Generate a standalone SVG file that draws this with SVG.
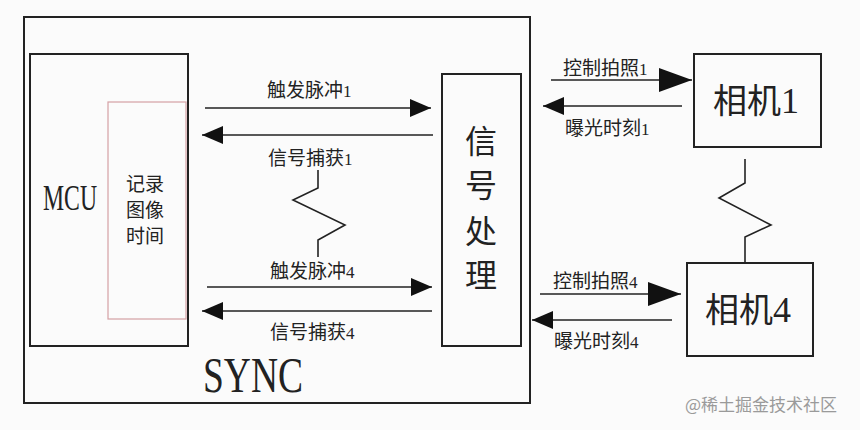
<svg xmlns="http://www.w3.org/2000/svg" width="860" height="430" viewBox="0 0 860 430">
<style>
.box{fill:none;stroke:#222;stroke-width:2}
.ln{fill:none;stroke:#222;stroke-width:1.6}
.cn{font-family:"Noto Sans CJK SC","Noto Sans",sans-serif;fill:#222}
.lb{font-size:19px}
.dg{font-family:"Liberation Serif",serif;font-size:17px}
.sf{font-family:"Liberation Serif",serif;fill:#222}
.vt{font-size:32px}
.rt{font-size:19px}
</style>
<defs>
<marker id="ah" markerUnits="userSpaceOnUse" markerWidth="22" markerHeight="20" refX="21" refY="9" orient="auto"><path d="M0,0 L21,9 L0,18 Z" fill="#111"/></marker>
<marker id="ahb" markerUnits="userSpaceOnUse" markerWidth="34" markerHeight="26" refX="33" refY="12" orient="auto"><path d="M0,0 L33,12 L0,24 Z" fill="#111"/></marker>
</defs>
<rect width="860" height="430" fill="#fbfbfb"/>
<g id="sync">
<rect class="box" x="24" y="17" width="506" height="386"/>
<text class="sf" x="203" y="392" font-size="50" textLength="100" lengthAdjust="spacingAndGlyphs">SYNC</text>
</g>
<g id="mcu">
<rect class="box" x="30" y="54" width="158" height="292"/>
<text class="sf" x="43" y="210" font-size="36" textLength="54" lengthAdjust="spacingAndGlyphs">MCU</text>
</g>
<g id="record">
<rect x="108" y="102" width="78" height="217" fill="none" stroke="#d4a0a4" stroke-width="1.2"/>
<text class="cn rt" x="145" y="191" text-anchor="middle">记录</text>
<text class="cn rt" x="145" y="217" text-anchor="middle">图像</text>
<text class="cn rt" x="145" y="243" text-anchor="middle">时间</text>
</g>
<g id="signal">
<rect class="box" x="442" y="74" width="79" height="272"/>
<text class="cn vt" x="481" y="153" text-anchor="middle">信</text>
<text class="cn vt" x="481" y="197" text-anchor="middle">号</text>
<text class="cn vt" x="481" y="243" text-anchor="middle">处</text>
<text class="cn vt" x="481" y="287" text-anchor="middle">理</text>
</g>
<g id="cam1">
<rect class="box" x="694" y="54" width="127" height="93"/>
<text class="cn" font-size="34" x="713" y="113">相机<tspan class="sf" font-size="36">1</tspan></text>
</g>
<g id="cam4">
<rect class="box" x="687" y="263" width="126" height="93"/>
<text class="cn" font-size="34" x="705" y="322">相机<tspan class="sf" font-size="36">4</tspan></text>
</g>
<g id="connectors">
<line class="ln" x1="205" y1="108" x2="431" y2="108" marker-end="url(#ah)"/>
<line class="ln" x1="433" y1="135" x2="202" y2="135" marker-end="url(#ah)"/>
<line class="ln" x1="207" y1="287" x2="432" y2="287" marker-end="url(#ah)"/>
<line class="ln" x1="432" y1="311" x2="202" y2="311" marker-end="url(#ah)"/>
<line class="ln" x1="551" y1="80" x2="692" y2="80" marker-end="url(#ahb)"/>
<line class="ln" x1="682" y1="106" x2="543" y2="106" marker-end="url(#ah)"/>
<line class="ln" x1="540" y1="294" x2="681" y2="294" marker-end="url(#ahb)"/>
<line class="ln" x1="672" y1="320" x2="532" y2="320" marker-end="url(#ah)"/>
<polyline class="ln" points="318,170 318,188 293,200 345,225 318,240 318,257"/>
<polyline class="ln" points="745,159 745,183 719,198 771,225 745,237 745,263"/>
</g>
<g id="labels">
<text class="cn lb" x="267" y="97">触发脉冲<tspan class="dg">1</tspan></text>
<text class="cn lb" x="268" y="165">信号捕获<tspan class="dg">1</tspan></text>
<text class="cn lb" x="270" y="278">触发脉冲<tspan class="dg">4</tspan></text>
<text class="cn lb" x="270" y="339">信号捕获<tspan class="dg">4</tspan></text>
<text class="cn lb" x="563" y="75">控制拍照<tspan class="dg">1</tspan></text>
<text class="cn lb" x="565" y="135">曝光时刻<tspan class="dg">1</tspan></text>
<text class="cn lb" x="553" y="288">控制拍照<tspan class="dg">4</tspan></text>
<text class="cn lb" x="554" y="348">曝光时刻<tspan class="dg">4</tspan></text>
</g>
<text class="cn" x="685" y="411" font-size="17" style="fill:#9a9a9a">@稀土掘金技术社区</text>
</svg>
